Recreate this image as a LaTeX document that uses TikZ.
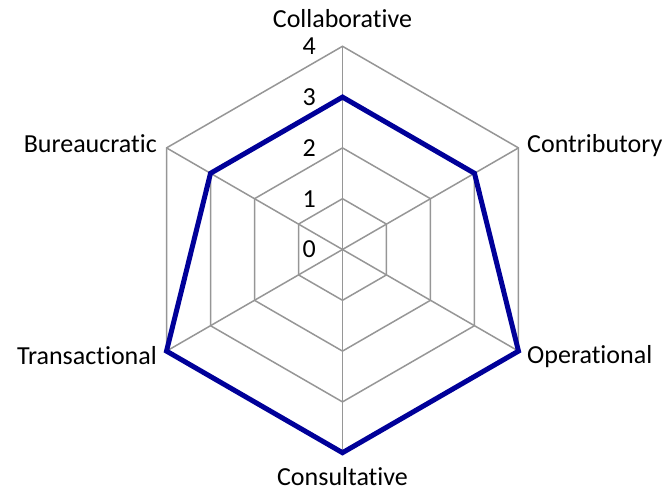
\documentclass[tikz,border=0pt]{standalone}
\usepackage{fontspec}
\setmainfont{Carlito}[Ligatures=NoCommon]
\usetikzlibrary{positioning}
\definecolor{gridgray}{RGB}{150,150,150}
\definecolor{seriesblue}{RGB}{0,0,153}

\begin{document}
\begin{tikzpicture}[
    x=1pt,y=1pt,
    gridline/.style={draw=gridgray,line width=1.5pt},
    series/.style={draw=seriesblue,line width=5pt,line join=miter},
    axislabel/.style={inner sep=0pt,font=\fontsize{26}{30}\selectfont},
    ticklabel/.style={inner sep=0pt,anchor=east,font=\fontsize{26}{30}\selectfont}
    ]

    \useasboundingbox (0,0) rectangle (665,491);
    \coordinate (c) at (342.5,241.5);

    % web
    \foreach \r in {50.8,101.6,152.4,203.2}
      \draw[gridline,shift={(c)}] (90:\r) -- (30:\r) -- (-30:\r) -- (-90:\r)
        -- (-150:\r) -- (150:\r) -- cycle;
    \foreach \a/\n in {90/col,30/con,-30/ope,-90/cns,-150/tra,150/bur} {
      \path (c) ++(\a:203.2) coordinate (\n);
      \draw[gridline] (c) -- (\n);
    }

    % scale
    \node[ticklabel] (t0) at (316,241.5) {0};
    \node[ticklabel] (t1) at (316,292.3) {1};
    \node[ticklabel] (t2) at (316,343.1) {2};
    \node[ticklabel] (t3) at (316,393.9) {3};
    \node[ticklabel] (t4) at (316,444.7) {4};

    % data
    \path (c) ++(90:152.4) coordinate (p1)
      (c) ++(30:152.4) coordinate (p2)
      (c) ++(-30:203.2) coordinate (p3)
      (c) ++(-90:203.2) coordinate (p4)
      (c) ++(-150:203.2) coordinate (p5)
      (c) ++(150:152.4) coordinate (p6);
    \draw[series] (p1) -- (p2) -- (p3) -- (p4) -- (p5) -- (p6) -- cycle;

    % categories
    \node[axislabel,anchor=base] (lcol) at (342.5,463.5) {Collaborative};
    \node[axislabel,anchor=base west] (lcon) at (527,338.5) {Contributory};
    \node[axislabel,anchor=base west] (lope) at (527,127.7) {Operational};
    \node[axislabel,anchor=base] (lcns) at (342.5,6) {Consultative};
    \node[axislabel,anchor=base east] (ltra) at (157,127) {Transactional};
    \node[axislabel,anchor=base east] (lbur) at (157,338.7) {Bureaucratic};

\end{tikzpicture}
\end{document}
